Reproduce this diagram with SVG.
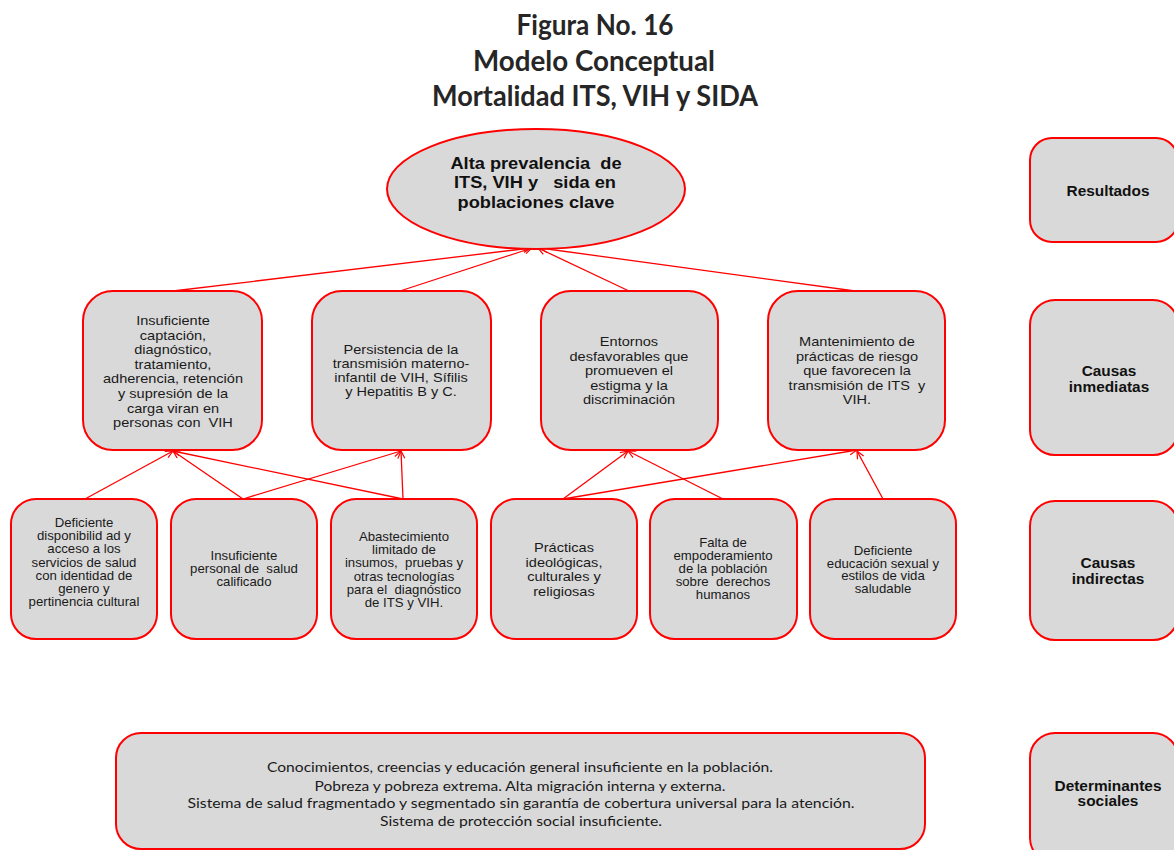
<svg xmlns="http://www.w3.org/2000/svg" width="1174" height="850" viewBox="0 0 1174 850" xml:space="preserve">
  <defs>
    <marker id="arrow" markerUnits="userSpaceOnUse" markerWidth="10" markerHeight="10" refX="8" refY="4" orient="auto">
      <path d="M0.5,0.5 L8,4 L0.5,7.5" fill="none" stroke="#ff0000" stroke-width="1.2"/>
    </marker>
  </defs>
  <style>
    .box { fill: #d9d9d9; stroke: #ff0000; stroke-width: 2; }
    .link { fill: none; stroke: #ff0000; stroke-width: 1.3; marker-end: url(#arrow); }
    text { font-family: "Liberation Sans", Arial, sans-serif; fill: #1a1a1a; text-anchor: middle; white-space: pre; }
    .title { font-family: Lato, "Open Sans", sans-serif; font-weight: bold; font-size: 28px; fill: #262626; }
    .t13 { font-size: 13px; transform-box: fill-box; transform-origin: center; transform: scaleX(1.12); }
    .t12 { font-size: 12px; transform-box: fill-box; transform-origin: center; transform: scaleX(1.1); }
    .lbl { font-size: 14px; font-weight: bold; fill: #111; transform-box: fill-box; transform-origin: center; transform: scaleX(1.1); }
    .main { font-size: 16px; font-weight: bold; fill: #111; transform-box: fill-box; transform-origin: center; transform: scaleX(1.14); }
    .det { font-family: Lato, "Open Sans", sans-serif; font-size: 13px; fill: #1a1a1a; }
  </style>

  <!-- Heading -->
  <g id="heading">
    <text class="title" x="595" y="35" textLength="157" lengthAdjust="spacingAndGlyphs">Figura No. 16</text>
    <text class="title" x="594" y="71" textLength="242" lengthAdjust="spacingAndGlyphs">Modelo Conceptual</text>
    <text class="title" x="595" y="106" textLength="326" lengthAdjust="spacingAndGlyphs">Mortalidad ITS, VIH y SIDA</text>
  </g>

  <!-- Connectors -->
  <g id="connectors">
    <line class="link" x1="173" y1="291" x2="531" y2="248"/>
    <line class="link" x1="400" y1="291" x2="532" y2="248"/>
    <line class="link" x1="629" y1="291" x2="538" y2="248"/>
    <line class="link" x1="855" y1="291" x2="540" y2="248"/>

    <line class="link" x1="85" y1="499" x2="173" y2="451"/>
    <line class="link" x1="243" y1="499" x2="173" y2="451"/>
    <line class="link" x1="403" y1="499" x2="173" y2="451"/>
    <line class="link" x1="243" y1="499" x2="401" y2="451"/>
    <line class="link" x1="403" y1="499" x2="401" y2="451"/>

    <line class="link" x1="563" y1="499" x2="628" y2="451"/>
    <line class="link" x1="723" y1="499" x2="628" y2="451"/>
    <line class="link" x1="563" y1="499" x2="857" y2="450"/>
    <line class="link" x1="883" y1="499" x2="857" y2="451"/>
  </g>

  <!-- Result -->
  <g id="resultado">
    <ellipse class="box" cx="536" cy="189" rx="149" ry="60"/>
    <text class="main" x="536" y="169">Alta prevalencia  de</text>
    <text class="main" x="535" y="188.5">ITS, VIH y   sida en</text>
    <text class="main" x="536" y="208">poblaciones clave</text>
  </g>

  <!-- Immediate causes -->
  <g id="inmediata-1">
    <rect class="box" x="83" y="291" width="179" height="159" rx="30"/>
    <text class="t13" x="173" y="325">Insuficiente</text>
    <text class="t13" x="173" y="339.6">captación,</text>
    <text class="t13" x="173" y="354.2">diagnóstico,</text>
    <text class="t13" x="173" y="368.8">tratamiento,</text>
    <text class="t13" x="173" y="383.4">adherencia, retención</text>
    <text class="t13" x="173" y="398">y supresión de la</text>
    <text class="t13" x="173" y="412.6">carga viran en</text>
    <text class="t13" x="173" y="427.2">personas con  VIH</text>
  </g>
  <g id="inmediata-2">
    <rect class="box" x="312" y="291" width="179" height="159" rx="30"/>
    <text class="t13" x="401" y="354.5">Persistencia de la</text>
    <text class="t13" x="401" y="368.5">transmisión materno-</text>
    <text class="t13" x="401" y="382.5">infantil de VIH, Sífilis</text>
    <text class="t13" x="401" y="396.5">y Hepatitis B y C.</text>
  </g>
  <g id="inmediata-3">
    <rect class="box" x="541" y="291" width="177" height="159" rx="30"/>
    <text class="t13" x="629" y="346.5">Entornos</text>
    <text class="t13" x="629" y="361">desfavorables que</text>
    <text class="t13" x="629" y="375.3">promueven el</text>
    <text class="t13" x="629" y="389.6">estigma y la</text>
    <text class="t13" x="629" y="404">discriminación</text>
  </g>
  <g id="inmediata-4">
    <rect class="box" x="768" y="291" width="177" height="159" rx="30"/>
    <text class="t13" x="857" y="346.5">Mantenimiento de</text>
    <text class="t13" x="857" y="361">prácticas de riesgo</text>
    <text class="t13" x="857" y="375.3">que favorecen la</text>
    <text class="t13" x="857" y="389.6">transmisión de ITS  y</text>
    <text class="t13" x="857" y="404">VIH.</text>
  </g>

  <!-- Indirect causes -->
  <g id="indirecta-1">
    <rect class="box" x="11" y="499" width="146" height="140" rx="25"/>
    <text class="t12" x="84" y="527">Deficiente</text>
    <text class="t12" x="84" y="540.2">disponibilid ad y</text>
    <text class="t12" x="84" y="553.4">acceso a los</text>
    <text class="t12" x="84" y="566.6">servicios de salud</text>
    <text class="t12" x="84" y="579.8">con identidad de</text>
    <text class="t12" x="84" y="593">genero y</text>
    <text class="t12" x="84" y="606.2">pertinencia cultural</text>
  </g>
  <g id="indirecta-2">
    <rect class="box" x="171" y="499" width="146" height="140" rx="25"/>
    <text class="t12" x="244" y="560">Insuficiente</text>
    <text class="t12" x="244" y="573">personal de  salud</text>
    <text class="t12" x="244" y="586">calificado</text>
  </g>
  <g id="indirecta-3">
    <rect class="box" x="331" y="499" width="146" height="140" rx="25"/>
    <text class="t12" x="404" y="541">Abastecimiento</text>
    <text class="t12" x="404" y="554.2">limitado de</text>
    <text class="t12" x="404" y="567.4">insumos,  pruebas y</text>
    <text class="t12" x="404" y="580.6">otras tecnologías</text>
    <text class="t12" x="404" y="593.8">para el  diagnóstico</text>
    <text class="t12" x="404" y="607">de ITS y VIH.</text>
  </g>
  <g id="indirecta-4">
    <rect class="box" x="491" y="499" width="146" height="140" rx="25"/>
    <text class="t13" x="564" y="552.5">Prácticas</text>
    <text class="t13" x="564" y="567">ideológicas,</text>
    <text class="t13" x="564" y="581.3">culturales y</text>
    <text class="t13" x="564" y="595.6">religiosas</text>
  </g>
  <g id="indirecta-5">
    <rect class="box" x="650" y="499" width="147" height="140" rx="25"/>
    <text class="t12" x="723" y="547">Falta de</text>
    <text class="t12" x="723" y="560">empoderamiento</text>
    <text class="t12" x="723" y="573">de la población</text>
    <text class="t12" x="723" y="586">sobre  derechos</text>
    <text class="t12" x="723" y="599">humanos</text>
  </g>
  <g id="indirecta-6">
    <rect class="box" x="810" y="499" width="146" height="140" rx="25"/>
    <text class="t12" x="883" y="555">Deficiente</text>
    <text class="t12" x="883" y="567.7">educación sexual y</text>
    <text class="t12" x="883" y="580.4">estilos de vida</text>
    <text class="t12" x="883" y="593.1">saludable</text>
  </g>

  <!-- Social determinants -->
  <g id="determinantes">
    <rect class="box" x="116" y="733" width="809" height="116" rx="25"/>
    <text class="det" x="520" y="772" textLength="506" lengthAdjust="spacingAndGlyphs">Conocimientos, creencias y educación general insuficiente en la población.</text>
    <text class="det" x="520" y="791" textLength="411" lengthAdjust="spacingAndGlyphs">Pobreza y pobreza extrema. Alta migración interna y externa.</text>
    <text class="det" x="521" y="808" textLength="667" lengthAdjust="spacingAndGlyphs">Sistema de salud fragmentado y segmentado sin garantía de cobertura universal para la atención.</text>
    <text class="det" x="521" y="826" textLength="282" lengthAdjust="spacingAndGlyphs">Sistema de protección social insuficiente.</text>
  </g>

  <!-- Level labels -->
  <g id="nivel-resultados">
    <rect class="box" x="1030" y="138" width="148" height="104" rx="22"/>
    <text class="lbl" x="1108" y="196">Resultados</text>
  </g>
  <g id="nivel-inmediatas">
    <rect class="box" x="1030" y="300" width="148" height="155" rx="25"/>
    <text class="lbl" x="1109" y="376">Causas</text>
    <text class="lbl" x="1109" y="392">inmediatas</text>
  </g>
  <g id="nivel-indirectas">
    <rect class="box" x="1030" y="501" width="148" height="139" rx="25"/>
    <text class="lbl" x="1108" y="568">Causas</text>
    <text class="lbl" x="1108" y="584">indirectas</text>
  </g>
  <g id="nivel-determinantes">
    <rect class="box" x="1030" y="733" width="148" height="130" rx="25"/>
    <text class="lbl" x="1108" y="791">Determinantes</text>
    <text class="lbl" x="1108" y="806">sociales</text>
  </g>
</svg>
